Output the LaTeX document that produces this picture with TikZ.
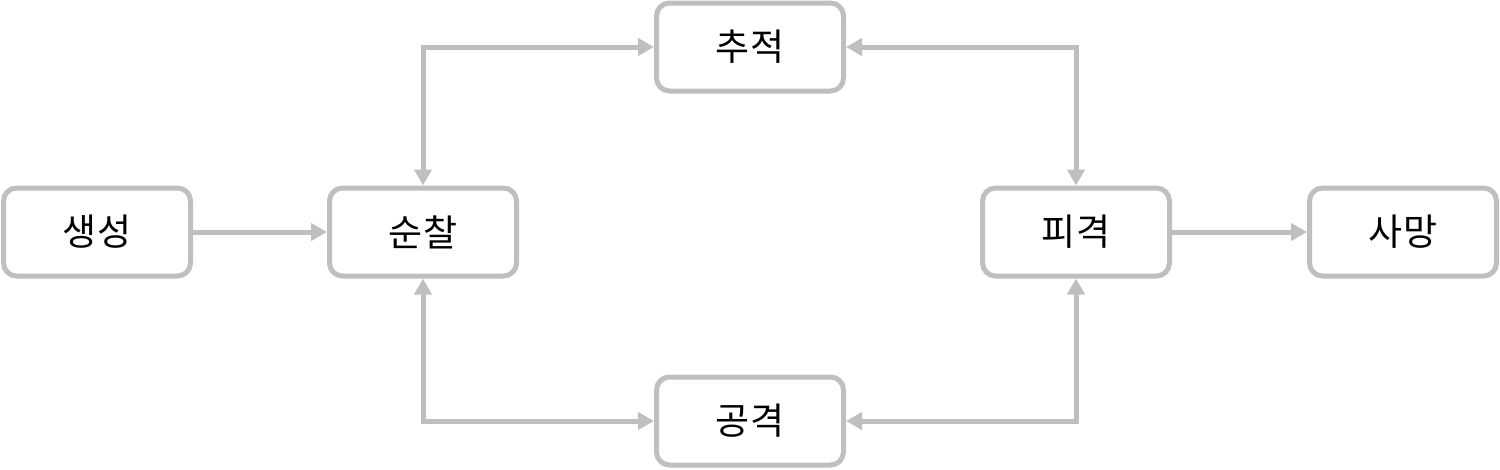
\documentclass[tikz,border=0pt]{standalone}
\usepackage{fontspec}
\newfontfamily\cjk{Noto Sans CJK KR}
\usetikzlibrary{arrows.meta}
\definecolor{edgegray}{RGB}{191,191,191}
\tikzset{
  state/.style={draw=edgegray, line width=5pt, rounded corners=13pt, fill=white,
    minimum width=187pt, minimum height=88pt, inner sep=0pt, font=\cjk\fontsize{37}{42}\selectfont, text=black},
  tip/.style={},
  conn/.style={draw=edgegray, line width=5pt, -{Triangle[length=16pt,width=17pt]}},
  bconn/.style={draw=edgegray, line width=5pt, {Triangle[length=16pt,width=17pt]}-{Triangle[length=16pt,width=17pt]}}
}
\begin{document}
\begin{tikzpicture}[x=1pt,y=-1pt]
\useasboundingbox (0,0) rectangle (1500,469);
\node[state] (saengseong) at (97,232) {생성};
\node[state] (sunchal) at (423,232) {순찰};
\node[state] (chujeok) at (750,47) {추적};
\node[state] (gonggyeok) at (750,421) {공격};
\node[state] (pigyeok) at (1076,232) {피격};
\node[state] (samang) at (1403,232) {사망};
\draw[conn] (saengseong) -- (sunchal);
\draw[conn] (pigyeok) -- (samang);
\draw[bconn] (sunchal.north) |- (chujeok.west);
\draw[bconn] (chujeok.east) -| (pigyeok.north);
\draw[bconn] (sunchal.south) |- (gonggyeok.west);
\draw[bconn] (gonggyeok.east) -| (pigyeok.south);
\end{tikzpicture}
\end{document}
